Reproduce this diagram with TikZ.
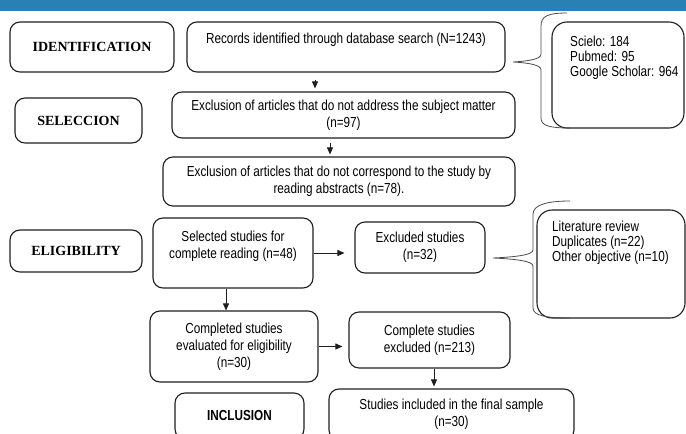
\documentclass[tikz,border=0pt]{standalone}
\usepackage{fontspec}
\setmainfont{Liberation Sans}
\newfontfamily\narrowfont[FakeStretch=0.81]{Liberation Sans}
\newfontfamily\timesfont{Liberation Serif}
\usetikzlibrary{arrows.meta,calc}
\definecolor{hdr}{RGB}{42,127,181}
\definecolor{ln}{RGB}{30,30,30}
\tikzset{
  box/.style={draw=ln, line width=1.1pt, rounded corners=10pt, inner sep=0pt, align=center,
    font=\narrowfont\fontsize{14.5}{17}\selectfont},
  lab/.style={box, font=\timesfont\bfseries\fontsize{14}{17}\selectfont},
  labs/.style={box, font=\narrowfont\bfseries\fontsize{14.5}{17}\selectfont},
  rbox/.style={box, rounded corners=15pt},
  arr/.style={draw=ln, line width=0.8pt, -{Triangle[length=7pt,width=6pt]}},
  bracel/.style={draw=ln!80, line width=0.8pt},
  txt/.style={inner sep=0pt, align=left, font=\narrowfont\fontsize{14.5}{15}\selectfont}
}
\begin{document}
\begin{tikzpicture}[x=1pt,y=-1pt]
\useasboundingbox (0,0) rectangle (686,434);
\clip (0,0) rectangle (686,434);
\fill[hdr] (0,0) rectangle (686,11);

\node[lab, minimum width=164, minimum height=50] (ident) at (92,47) {IDENTIFICATION};
\node[box, minimum width=318, minimum height=50] (rec) at (346,47) {Records identified through database search (N=1243)\\ ~};
\node[lab, minimum width=127, minimum height=45] (selec) at (78.5,120.5) {SELECCION};
\node[box, minimum width=343, minimum height=46] (ex1) at (343.5,115) {Exclusion of articles that do not address the subject matter\\(n=97)};
\node[box, minimum width=352, minimum height=49] (ex2) at (339,181.5) {Exclusion of articles that do not correspond to the study by\\reading abstracts (n=78).};
\node[lab, minimum width=132, minimum height=42] (elig) at (76,251) {ELIGIBILITY};
\node[box, minimum width=160, minimum height=70] (sel) at (233,253) {Selected studies for\\complete reading (n=48)\\ ~};
\node[box, minimum width=130, minimum height=51] (excl) at (420,247.5) {Excluded studies\\(n=32)};
\node[rbox, minimum width=148, minimum height=108] (lit) at (611,264) {};
\node[txt, anchor=north west] (littxt) at (552,221) {Literature review\\Duplicates (n=22)\\Other objective (n=10)};
\node[rbox, minimum width=132, minimum height=106] (schol) at (618,75) {};
\node[txt, anchor=north west] (scholtxt) at (570,36) {Scielo: 184\\Pubmed: 95\\Google Scholar: 964};
\node[box, minimum width=168, minimum height=71] (comp) at (234,346.5) {Completed studies\\evaluated for eligibility\\(n=30)};
\node[box, minimum width=161, minimum height=56] (cex) at (429.5,340) {Complete studies\\excluded (n=213)};
\node[labs, minimum width=129, minimum height=46] (incl) at (239.5,416) {INCLUSION};
\node[box, minimum width=245, minimum height=51] (fin) at (451.5,414.5) {Studies included in the final sample\\(n=30)};

\coordinate (x1) at (315,0);
\coordinate (x2) at (330,0);
\coordinate (x3) at (226,0);
\coordinate (x4) at (434,0);
\draw[arr, shorten <=7pt, shorten >=3pt] (x1 |- rec.south) -- (x1 |- ex1.north);
\draw[arr, shorten <=4pt, shorten >=2pt] (x2 |- ex1.south) -- (x2 |- ex2.north);
\draw[arr, shorten >=10pt] (sel.east) -- (sel.east -| excl.west);
\draw[arr] (x3 |- sel.south) -- (x3 |- comp.north);
\draw[arr, shorten >=6pt] (comp.east) -- (comp.east -| cex.west);
\draw[arr, shorten >=2pt] (x4 |- cex.south) -- (x4 |- fin.north);

% braces
\coordinate (t1) at (513,62);
\draw[bracel] (567,13) .. controls (548,13) and (541,16) .. (541,26) -- (541,54)
  .. controls (541,59) and (530,61) .. (t1)
  .. controls (530,63) and (541,65) .. (541,70) -- (541,118)
  .. controls (541,126) and (550,128) .. (570,128);
\coordinate (t2) at (493,258);
\draw[bracel] (570,201) .. controls (550,201) and (533,204) .. (533,214) -- (533,250)
  .. controls (533,255) and (515,257) .. (t2)
  .. controls (515,259) and (533,261) .. (533,266) -- (533,308)
  .. controls (533,316) and (548,318) .. (570,318);
\end{tikzpicture}
\end{document}
